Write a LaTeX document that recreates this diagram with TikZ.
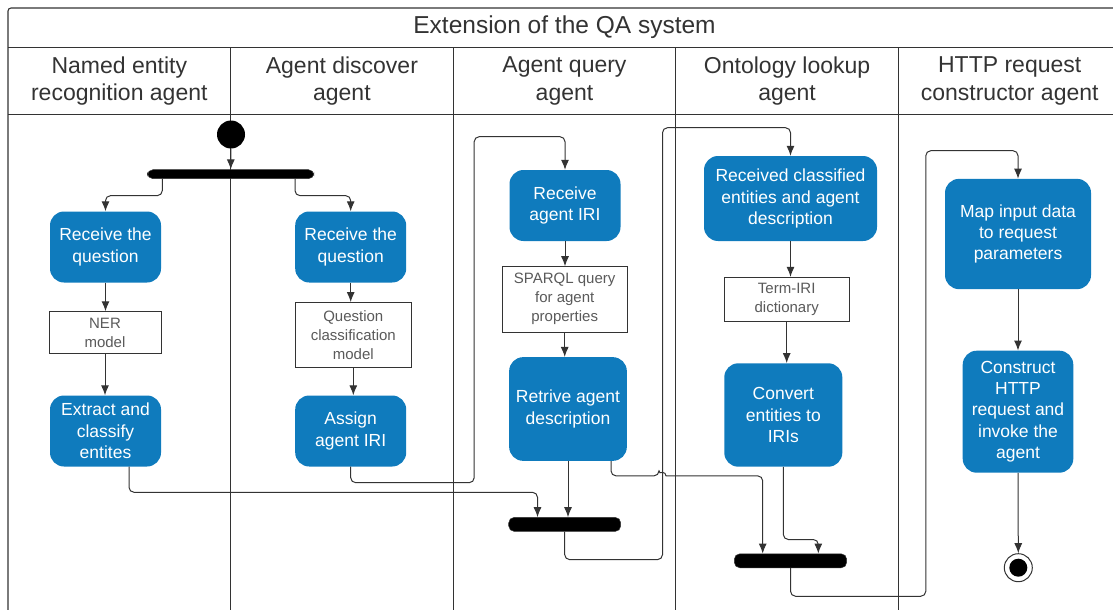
\documentclass[tikz,border=0pt]{standalone}
\usepackage{fontspec}
\setmainfont{Liberation Sans}
\usetikzlibrary{arrows.meta}
\definecolor{actblue}{HTML}{0F7BBD}
\definecolor{ink}{HTML}{333333}
\definecolor{objtext}{HTML}{5A5A5A}
\begin{document}
\begin{tikzpicture}[x=1pt,y=-1pt,
  lane/.style={draw=ink, line width=1.1pt},
  header/.style={text=ink, align=center, font=\fontsize{23}{27.5}\selectfont, inner sep=0pt},
  sz/.style 2 args={minimum width=#1pt, minimum height=#2pt},
  act/.style={rectangle, rounded corners=14pt, fill=actblue, text=white, align=center,
    font=\fontsize{17.5}{21.3}\selectfont, inner sep=0pt},
  obj/.style={rectangle, draw=ink, line width=0.9pt, fill=white, text=objtext, align=center,
    font=\fontsize{15}{19}\selectfont, inner sep=0pt},
  bar/.style={rectangle, rounded corners=5.5pt, fill=black, draw=ink, line width=0.5pt, inner sep=0pt},
  flow/.style={draw=ink, line width=1pt, rounded corners=5pt, -{Latex[length=10pt,width=8pt]}},
]
\useasboundingbox (0,0) rectangle (1113,610);
\clip (0,0) rectangle (1113,610);

% swimlane frame
\draw[lane, rounded corners=3pt] (8,620) |- (1125,8);
\draw[lane] (8,47.7) -- (1125,47.7);
\draw[lane] (8,114.3) -- (1125,114.3);
\foreach \x in {230.6,453.2,675.8,898.4}
  \draw[lane] (\x,47.7) -- (\x,620);

% titles
\node[header, font=\fontsize{24.5}{28}\selectfont] (title) at (564.5,27) {Extension of the QA system};
\node[header] (h1) at (119.3,81) {Named entity\\recognition agent};
\node[header] (h2) at (341.9,81) {Agent discover\\agent};
\node[header] (h3) at (564.5,81) {Agent query\\agent};
\node[header] (h4) at (787.1,81) {Ontology lookup\\agent};
\node[header] (h5) at (1009.7,81) {HTTP request\\constructor agent};

% control nodes
\node[circle, fill=black, minimum size=28pt, inner sep=0pt] (start) at (231,134.5) {};
\node[bar, sz={166.5}{9}] (fork) at (230.7,174.2) {};
\node[bar, sz={112}{14}] (joinA) at (564.7,524.4) {};
\node[bar, sz={112.4}{14}] (joinB) at (790.5,560.8) {};
\node[circle, draw=ink, line width=1pt, fill=white, minimum size=28pt, inner sep=0pt,
  path picture={\fill[black] (path picture bounding box.center) circle (9pt);}] (stop) at (1018.3,567.7) {};

% activities and objects
\node[act, sz={111}{71}] (ner1) at (105.5,247) {Receive the\\question};
\node[obj, sz={112}{41.6}] (nerm) at (105,332.5) {NER\\model};
\node[act, sz={111}{71}] (ner2) at (105.5,431) {Extract and\\classify\\entites};
\node[act, sz={111}{71}] (ad1) at (350.7,247) {Receive the\\question};
\node[obj, sz={116.7}{65}] (adm) at (353.3,335) {Question\\classification\\model};
\node[act, sz={111}{71}] (ad2) at (350.7,431) {Assign\\agent IRI};
\node[act, sz={111}{71}] (aq1) at (565,205.5) {Receive\\agent IRI};
\node[obj, sz={125.3}{65.3}] (aqm) at (564.7,299.3) {SPARQL query\\for agent\\properties};
\node[act, sz={117.7}{103.7}] (aq2) at (568,409) {Retrive agent\\description};
\node[act, sz={173}{85}] (ol1) at (790.5,198.5) {Received classified\\entities and agent\\description};
\node[obj, sz={125.3}{44.4}] (olm) at (786.7,299.5) {Term-IRI\\dictionary};
\node[act, sz={118}{103.4}] (ol2) at (783.3,415) {Convert\\entities to\\IRIs};
\node[act, sz={146}{110.3}] (hr1) at (1018,234) {Map input data\\to request\\parameters};
\node[act, sz={110.6}{122}] (hr2) at (1018,411.7) {Construct\\HTTP\\request and\\invoke the\\agent};

% bend points of the long loops
\coordinate (upA) at (474.2,136.7);
\coordinate (upB) at (662.5,127.7);
\coordinate (upC) at (925.8,150.7);

% control flow
\draw[flow] (start) -- (fork);
\draw[flow] ([xshift=-68.4pt]fork.south) -- ++(0,16.7) -| (ner1.north);
\draw[flow] ([xshift=64.3pt]fork.south) -- ++(0,16.7) -| (ad1.north);
\draw[flow] (ner1.south) -- (ner1.south |- nerm.north);
\draw[flow] (nerm.south) -- (nerm.south |- ner2.north);
\draw[flow] (ad1.south) -- (ad1.south |- adm.north);
\draw[flow] (adm.south) -- (adm.south |- ad2.north);
\draw[flow] ([xshift=23.5pt]ner2.south) -- ++(0,25.6) -| ([xshift=-27.2pt]joinA.north);
\draw[flow] (ad2.south) -- ++(0,16) -| (upA) -| (aq1.north);
\draw[flow] (aq1.south) -- (aq1.south |- aqm.north);
\draw[flow] (aqm.south) -- (aqm.south |- aq2.north);
\draw[flow] (aq2.south) -- (aq2.south |- joinA.north);
\draw[flow] (joinA.south) -- ++(0,28) -| (upB) -| (ol1.north);
\draw[flow] ([xshift=43pt]aq2.south) -- ++(0,14.8) -- ++(48,0)
  [sharp corners] arc[start angle=180, end angle=0, radius=3.5pt]
  [rounded corners=5pt] -| ([xshift=-27.8pt]joinB.north);
\draw[flow] (ol1.south) -- (ol1.south |- olm.north);
\draw[flow] (olm.south) -- (olm.south |- ol2.north);
\draw[flow] (ol2.south) -- ++(0,72.6) -| ([xshift=27.8pt]joinB.north);
\draw[flow] (joinB.south) -- ++(0,28.2) -| (upC) -| (hr1.north);
\draw[flow] (hr1.south) -- (hr2.north);
\draw[flow] (hr2.south) -- (stop.north);
\end{tikzpicture}
\end{document}
